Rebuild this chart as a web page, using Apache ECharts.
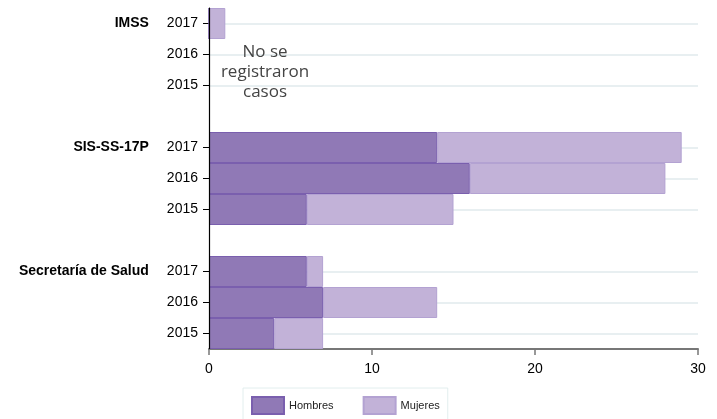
<!DOCTYPE html>
<html>
<head>
<meta charset="utf-8">
<script src="https://cdn.jsdelivr.net/npm/echarts@6/dist/echarts.min.js"></script>
<style>html,body{margin:0;padding:0;background:#fff}#c{width:717px;height:419px}</style>
</head>
<body>
<div id="c"></div>
<script>
const institutions = ['IMSS', 'SIS-SS-17P', 'Secretaría de Salud'];
const years = ['2017', '2016', '2015'];
// values per institution, per year (2017, 2016, 2015)
const hombres = [[0, null, null], [14, 16, 6], [6, 7, 4]];
const mujeres = [[1, null, null], [15, 12, 9], [1, 7, 3]];
const xTicks = [0, 10, 20, 30];
const noteText = 'No se\nregistraron\ncasos';

const categories = [];
const hData = [];
const mData = [];
institutions.forEach((inst, i) => {
  if (i > 0) { categories.push('gap' + i); hData.push(null); mData.push(null); }
  years.forEach((y, j) => {
    categories.push(inst + '|' + y);
    hData.push(hombres[i][j]);
    mData.push(mujeres[i][j]);
  });
});
const realCats = categories.filter(c => c.indexOf('|') >= 0);

const chart = echarts.init(document.getElementById('c'), null, {renderer: 'canvas'});
chart.setOption({
  animation: false,
  textStyle: {fontFamily: 'Liberation Sans, Arial, sans-serif'},
  grid: {left: 209, right: 19, top: 8, bottom: 70, containLabel: false},
  xAxis: {
    type: 'value', min: xTicks[0], max: xTicks[xTicks.length - 1], interval: 10,
    axisLine: {show: true, lineStyle: {color: '#777', width: 2}},
    axisTick: {show: true, length: 6, lineStyle: {color: '#777', width: 1.5}},
    axisLabel: {color: '#000', fontSize: 14, margin: 13},
    splitLine: {show: false}
  },
  yAxis: {
    type: 'category', data: categories, inverse: true,
    axisLine: {show: true, lineStyle: {color: '#000', width: 1}},
    axisTick: {show: true, alignWithLabel: true, length: 6,
      interval: (idx, val) => val.indexOf('|') >= 0,
      lineStyle: {color: '#000', width: 1}},
    axisLabel: {
      interval: 0, margin: 11, color: '#000', fontSize: 14,
      formatter: v => {
        if (v.indexOf('|') < 0) return '';
        const p = v.split('|');
        if (p[1] === years[0]) return '{inst|' + p[0] + '}{yr|' + p[1] + '}';
        return '{yr|' + p[1] + '}';
      },
      rich: {
        inst: {fontWeight: 'bold', fontSize: 14, color: '#000', padding: [0, 18, 0, 0]},
        yr: {fontSize: 14, color: '#000'}
      }
    },
    splitLine: {show: false}
  },
  legend: {
    left: 243, top: 388, padding: [8, 8, 8, 8],
    borderColor: '#e2eeee', borderWidth: 1,
    icon: 'rect',
    itemWidth: 32, itemHeight: 17, itemGap: 29,
    textStyle: {fontSize: 11, color: '#222'},
    data: ['Hombres', 'Mujeres']
  },
  series: [
    {
      name: 'Hombres', type: 'bar', stack: 'total', barCategoryGap: '0%',
      data: hData,
      itemStyle: {color: '#9079b6', borderColor: '#7a5fae', borderWidth: 1},
      markLine: {
        silent: true, symbol: 'none', z: 0, animation: false,
        label: {show: false},
        lineStyle: {color: '#e8eff1', width: 2, type: 'solid'},
        data: realCats.map(c => ({yAxis: c}))
      }
    },
    {
      name: 'Mujeres', type: 'bar', stack: 'total', barCategoryGap: '0%',
      data: mData,
      itemStyle: {color: '#c2b2d8', borderColor: '#b3a2d2', borderWidth: 1},
      markLine: {
        silent: true, symbol: 'none', z: 10, animation: false,
        label: {show: false},
        lineStyle: {color: '#000', width: 1.2, type: 'solid'},
        data: [{xAxis: xTicks[0]}]
      }
    }
  ],
  graphic: [{
    type: 'text', z: 10,
    style: {text: noteText, fill: '#444', font: '17px "Open Sans", sans-serif',
      x: 265, y: 72, textAlign: 'center', textVerticalAlign: 'middle', lineHeight: 20}
  }]
});
</script>
</body>
</html>
